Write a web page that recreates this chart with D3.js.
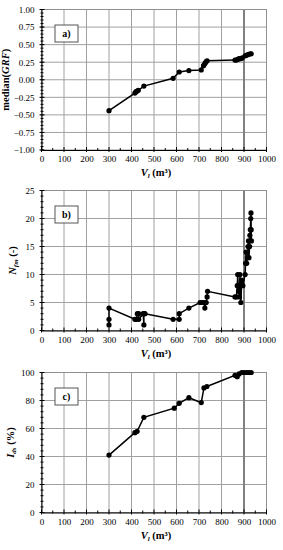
<!DOCTYPE html>
<html><head><meta charset="utf-8">
<script src="https://cdn.jsdelivr.net/npm/d3@7"></script>
<style>body{margin:0;background:#fff}svg{display:block}text{font-family:"Liberation Serif","Times New Roman",serif}</style>
</head><body>
<svg id="c" width="283" height="550"></svg>
<script>
const xTicks = [0,100,200,300,400,500,600,700,800,900,1000];
const refLineX = 900;
const seriesA = [[300,-0.44],[415,-0.19],[420,-0.17],[425,-0.16],[430,-0.15],[455,-0.09],[585,0.02],[612,0.11],[655,0.13],[710,0.14],[720,0.20],[724,0.22],[728,0.24],[732,0.26],[736,0.27],[860,0.28],[866,0.28],[872,0.29],[878,0.30],[885,0.30],[892,0.31],[905,0.34],[912,0.35],[920,0.36],[928,0.37],[932,0.37]];
const seriesB = [[300,1],[300,2],[300,4],[415,2],[422,2],[426,3],[432,3],[432,2],[452,3],[455,1],[455,3],[460,3],[585,2],[612,2],[612,3],[655,4],[705,5],[715,5],[722,5],[726,4],[732,5],[736,6],[738,7],[860,6],[866,6],[870,8],[872,10],[876,7],[880,6],[882,10],[886,5],[890,9],[895,8],[905,10],[907,12],[909,14],[912,12],[915,13],[918,15],[920,16],[922,13],[925,15],[926,17],[928,18],[930,20],[931,21],[932,18],[933,16]];
const seriesC = [[300,41],[415,57],[425,58],[455,68],[590,74.5],[612,78],[655,82],[710,78.5],[722,89],[735,90],[860,98],[870,97],[878,99],[890,100],[900,100],[912,100],[922,100],[932,100]];
const yTicksA = [-1.00,-0.75,-0.50,-0.25,0.00,0.25,0.50,0.75,1.00];
const yTicksB = [0,5,10,15,20,25];
const yTicksC = [0,20,40,60,80,100];

const svg = d3.select("#c");
const X0 = 41.5, X1 = 266.5;
const x = d3.scaleLinear().domain([0,1000]).range([X0,X1]);

function panel(o){
  const g = svg.append("g");
  const y = d3.scaleLinear().domain(o.dom).range([o.bot,o.top]);
  // grid
  g.selectAll(".vg").data(xTicks.slice(1)).enter().append("line")
    .attr("x1",d=>x(d)).attr("x2",d=>x(d)).attr("y1",o.top).attr("y2",o.bot)
    .attr("stroke","#a0a0a0").attr("stroke-width",1);
  g.selectAll(".hg").data(o.ticks.slice(1)).enter().append("line")
    .attr("x1",X0).attr("x2",X1).attr("y1",d=>y(d)).attr("y2",d=>y(d))
    .attr("stroke","#a0a0a0").attr("stroke-width",1);
  // ref line
  g.append("line").attr("x1",x(refLineX)).attr("x2",x(refLineX)).attr("y1",o.top).attr("y2",o.bot)
    .attr("stroke","#808080").attr("stroke-width",2);
  // frame
  g.append("rect").attr("x",X0).attr("y",o.top).attr("width",X1-X0).attr("height",o.bot-o.top)
    .attr("fill","none").attr("stroke","#909090").attr("stroke-width",1);
  // axes
  const ax = d3.axisBottom(x).tickValues(xTicks).tickSize(0).tickFormat(d3.format("d")).tickPadding(6);
  const axg = g.append("g").attr("transform",`translate(0,${o.bot})`).call(ax);
  axg.select(".domain").attr("stroke","#000");
  axg.selectAll("text").attr("font-size","9px").attr("fill","#000").style("font-family","Liberation Serif");
  const minorX = d3.range(50,1000,100);
  g.selectAll(".mx").data(minorX).enter().append("line")
    .attr("x1",d=>x(d)).attr("x2",d=>x(d)).attr("y1",o.bot-2).attr("y2",o.bot+1).attr("stroke","#000");
  g.selectAll(".Mx").data(xTicks).enter().append("line")
    .attr("x1",d=>x(d)).attr("x2",d=>x(d)).attr("y1",o.bot-3).attr("y2",o.bot+2).attr("stroke","#000");
  const ay = d3.axisLeft(y).tickValues(o.ticks).tickSize(0).tickFormat(o.fmt).tickPadding(7);
  const ayg = g.append("g").attr("transform",`translate(${X0},0)`).call(ay);
  ayg.select(".domain").attr("stroke","#000");
  ayg.selectAll("text").attr("font-size","9px").attr("fill","#000").style("font-family","Liberation Serif");
  const minorY = d3.range(o.dom[0], o.dom[1]+o.minor/2, o.minor);
  g.selectAll(".my").data(minorY).enter().append("line")
    .attr("x1",X0-1).attr("x2",X0+2).attr("y1",d=>y(d)).attr("y2",d=>y(d)).attr("stroke","#000");
  g.selectAll(".My").data(o.ticks).enter().append("line")
    .attr("x1",X0-2).attr("x2",X0+3).attr("y1",d=>y(d)).attr("y2",d=>y(d)).attr("stroke","#000");
  // data
  const line = d3.line().x(d=>x(d[0])).y(d=>y(d[1]));
  g.append("path").datum(o.data).attr("d",line).attr("fill","none").attr("stroke","#000").attr("stroke-width",1.5);
  g.selectAll(".pt").data(o.data).enter().append("circle")
    .attr("cx",d=>x(d[0])).attr("cy",d=>y(d[1])).attr("r",2.6).attr("fill","#000");
  // label box
  g.append("rect").attr("x",55).attr("y",o.top+15.5).attr("width",23).attr("height",17)
    .attr("fill","#fff").attr("stroke","#555").attr("stroke-width",1);
  g.append("text").attr("x",66.5).attr("y",o.top+27.5).attr("text-anchor","middle")
    .attr("font-size","10px").attr("font-weight","bold").text(o.label);
  // x title
  const xt = g.append("text").attr("x",(X0+X1)/2+2).attr("y",o.bot+26).attr("text-anchor","middle")
    .attr("font-size","10.5px").attr("font-weight","bold");
  xt.append("tspan").attr("font-style","italic").text("V");
  xt.append("tspan").attr("font-style","italic").attr("font-size","7px").attr("dy",2).text("l");
  xt.append("tspan").attr("dy",-2).text(" (m³)");
  // y title
  const yt = g.append("text").attr("transform",`translate(${o.yx},${(o.top+o.bot)/2}) rotate(-90)`)
    .attr("text-anchor","middle").attr("font-size","10.5px").attr("font-weight","bold");
  o.ytitle(yt);
}

panel({dom:[-1,1],top:9.5,bot:150,ticks:yTicksA,fmt:d3.format(".2f"),minor:0.05,data:seriesA,label:"a)",yx:9,
  ytitle:t=>{t.append("tspan").text("median(");t.append("tspan").attr("font-style","italic").text("GRF");t.append("tspan").text(")");}});
panel({dom:[0,25],top:190.5,bot:330.5,ticks:yTicksB,fmt:d3.format("d"),minor:1,data:seriesB,label:"b)",yx:16,
  ytitle:t=>{t.append("tspan").attr("font-style","italic").text("N");t.append("tspan").attr("font-style","italic").attr("font-size","7px").attr("dy",2).text("fm");t.append("tspan").attr("dy",-2).text(" (-)");}});
panel({dom:[0,100],top:372.5,bot:512.5,ticks:yTicksC,fmt:d3.format("d"),minor:4,data:seriesC,label:"c)",yx:14,
  ytitle:t=>{t.append("tspan").attr("font-style","italic").text("I");t.append("tspan").attr("font-style","italic").attr("font-size","7px").attr("dy",2).text("ds");t.append("tspan").attr("dy",-2).text(" (%)");}});
</script>
</body></html>
